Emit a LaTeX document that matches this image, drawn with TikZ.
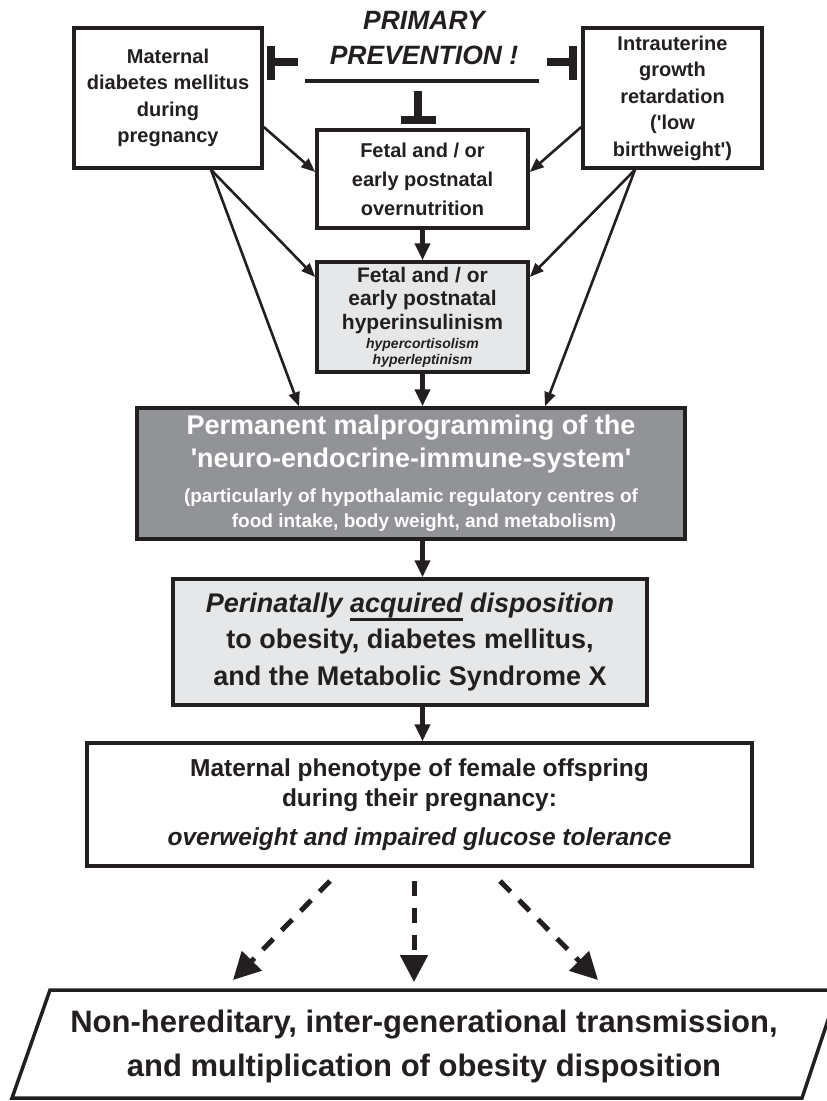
\documentclass[tikz,border=0pt]{standalone}
\usepackage{fontspec}
\setmainfont{Liberation Sans}[Ligatures=TeXOff]
\usetikzlibrary{arrows.meta,calc}
\definecolor{ink}{RGB}{35,31,32}
\definecolor{lgray}{RGB}{230,231,232}
\definecolor{dgray}{RGB}{146,147,151}
\newcommand\fsz[2]{\fontsize{#1}{#2}\selectfont}
\newsavebox\ulbox
\newcommand\ulword[1]{\sbox\ulbox{#1}\rlap{\rule[-9pt]{\wd\ulbox}{3pt}}\usebox\ulbox}
\begin{document}
\begin{tikzpicture}[x=1pt,y=-1pt,
  box/.style={draw=ink,line width=3.5pt,align=center,inner sep=0pt,text=ink},
  thinarrow/.style={draw=ink,line width=2.6pt,-{Triangle[length=14pt,width=11pt]}},
  mainarrow/.style={draw=ink,line width=4.5pt,-{Triangle[length=17pt,width=15pt]}},
  dasharrow/.style={draw=ink,line width=5pt,dash pattern=on 15pt off 12pt,-{Triangle[length=27pt,width=27pt]}},
  tbar/.style={draw=ink,line width=7.5pt},
]
\useasboundingbox (0,0) rectangle (827,1101);
\fill[white] (0,0) rectangle (827,1101);

% boxes
\node[box,minimum width=188pt,minimum height=140pt,font=\bfseries\fsz{20}{26.5}] (mat) at (168,98)
  {Maternal\\diabetes mellitus\\during\\pregnancy};
\node[box,minimum width=179pt,minimum height=140pt,font=\bfseries\fsz{20}{26.5}] (intra) at (672.5,98)
  {Intrauterine\\growth\\retardation\\('low\\birthweight')};
\node[box,minimum width=211pt,minimum height=98pt,font=\bfseries\fsz{20}{29}] (over) at (422.5,179)
  {Fetal and / or\\early postnatal\\overnutrition};
\node[box,fill=lgray,minimum width=211pt,minimum height=110pt,font=\bfseries\fsz{21}{23.5}] (hyp) at (422.5,317)
  {Fetal and / or\\early postnatal\\hyperinsulinism\\[-4.5pt]{\itshape\fsz{14}{16}hypercortisolism}\\[-7.5pt]{\itshape\fsz{14}{16}hyperleptinism}};
\node[box,fill=dgray,text=white,minimum width=548pt,minimum height=131pt,font=\bfseries\fsz{27}{33}] (perm) at (411,473.5)
  {Permanent malprogramming of the\\'neuro-endocrine-immune-system'\\[2pt]{\fsz{19}{25}(particularly of hypothalamic regulatory centres of}\\[-8pt]{\fsz{19}{25}\hspace*{26pt}food intake, body weight, and metabolism)}};
\node[box,fill=lgray,minimum width=474pt,minimum height=126pt,font=\bfseries\fsz{27}{36.5}] (perin) at (410,642)
  {{\itshape Perinatally \ulword{acquired} disposition}\\to obesity, diabetes mellitus,\\and the Metabolic Syndrome X};
\node[box,minimum width=665pt,minimum height=123pt,font=\bfseries\fsz{24.5}{30}] (phen) at (419.5,804.5)
  {Maternal phenotype of female offspring\\during their pregnancy:\\[9pt]{\itshape overweight and impaired glucose tolerance}};

% parallelogram
\draw[ink,line width=3.5pt,line join=miter] (50,990) -- (838,990) -- (802,1098) -- (12,1098) -- cycle;
\node[align=center,inner sep=0pt,text=ink,font=\bfseries\fsz{31}{44}] (para) at (424,1046)
  {Non-hereditary, inter-generational transmission,\\and multiplication of obesity disposition};

% primary prevention
\node[align=center,inner sep=0pt,text=ink,font=\bfseries\itshape\fsz{26.5}{35}] (prev) at (424,38)
  {PRIMARY\\PREVENTION !};
\coordinate (ulL) at (305,81);
\coordinate (ulR) at (539,81);
\draw[ink,line width=4pt] (ulL) -- (ulR);

% inhibition bars
\coordinate (tlA) at (298,62); \coordinate (tlB) at (271,62);
\coordinate (tlT) at (271,46); \coordinate (tlD) at (271,80);
\draw[tbar] (tlA) -- (tlB); \draw[tbar] (tlT) -- (tlD);
\coordinate (trA) at (547,62); \coordinate (trB) at (573,62);
\coordinate (trT) at (573,46); \coordinate (trD) at (573,80);
\draw[tbar] (trA) -- (trB); \draw[tbar] (trT) -- (trD);
\coordinate (tdA) at (418,91); \coordinate (tdB) at (418,117);
\coordinate (tdL) at (401,120); \coordinate (tdR) at (436,120);
\draw[tbar] (tdA) -- (tdB); \draw[tbar] (tdL) -- (tdR);

% thin arrows
\draw[thinarrow] ($(mat.east)+(0,29)$) -- ($(over.west)+(0,-7)$);
\draw[thinarrow] ($(mat.south)+(43,0)$) -- ($(hyp.west)+(0,-40)$);
\draw[thinarrow] ($(mat.south)+(43,0)$) -- ($(perm.north)+(-112,0)$);
\draw[thinarrow] ($(intra.west)+(0,29)$) -- ($(over.east)+(0,-7)$);
\draw[thinarrow] ($(intra.south)+(-37.5,0)$) -- ($(hyp.east)+(0,-40)$);
\draw[thinarrow] ($(intra.south)+(-37.5,0)$) -- ($(perm.north)+(134,0)$);

% main vertical arrows
\draw[mainarrow] (over.south) -- (hyp.north);
\draw[mainarrow] (hyp.south) -- (hyp.south |- perm.north);
\draw[mainarrow] (perm.south -| hyp.south) -- (perin.north -| hyp.south);
\draw[mainarrow] (perin.south -| hyp.south) -- (phen.north -| hyp.south);

% dashed arrows
\coordinate (d1s) at (330,881); \coordinate (d1e) at (233,980);
\coordinate (d2s) at (414,881); \coordinate (d2e) at (414,982);
\coordinate (d3s) at (500,881); \coordinate (d3e) at (598,980);
\draw[dasharrow] (d1s) -- (d1e);
\draw[dasharrow] (d2s) -- (d2e);
\draw[dasharrow] (d3s) -- (d3e);
\end{tikzpicture}
\end{document}
